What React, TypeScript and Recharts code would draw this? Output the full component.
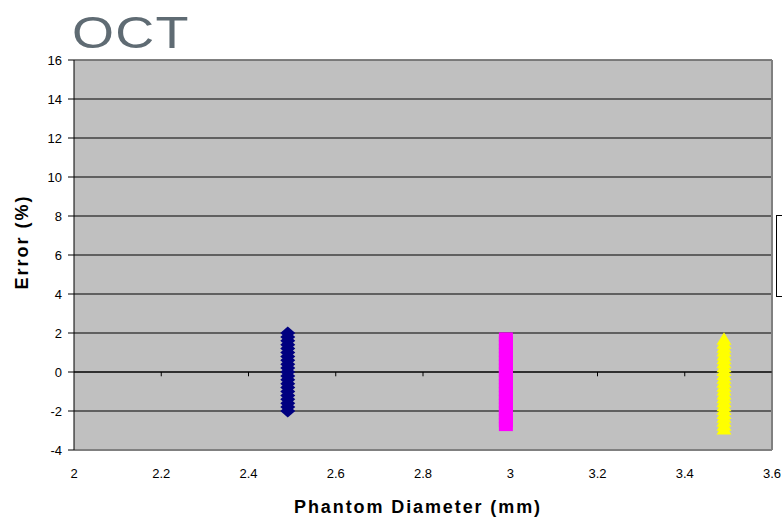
import React from "react";
import {
  ScatterChart,
  Scatter,
  XAxis,
  YAxis,
  CartesianGrid,
  ReferenceLine,
  Label,
} from "recharts";

const xTicks = [2, 2.2, 2.4, 2.6, 2.8, 3, 3.2, 3.4, 3.6];
const yTicks = [-4, -2, 0, 2, 4, 6, 8, 10, 12, 14, 16];

// x positions of the three groups
const blueX = 2.49;
const pinkX = 2.99;
const yellowX = 3.49;

const blueErrors = [
  2, 1.8, 1.6, 1.4, 1.2, 1, 0.8, 0.6, 0.4, 0.2, 0, -0.2, -0.4, -0.6, -0.8, -1,
  -1.2, -1.4, -1.6, -1.8, -2,
];
const pinkErrors = [
  1.8, 1.6, 1.4, 1.2, 1, 0.8, 0.6, 0.4, 0.2, 0, -0.2, -0.4, -0.6, -0.8, -1,
  -1.2, -1.4, -1.6, -1.8, -2, -2.2, -2.4, -2.6, -2.8,
];
const yellowErrors = [
  1.7, 1.5, 1.3, 1.1, 0.9, 0.7, 0.5, 0.3, 0.1, -0.1, -0.3, -0.5, -0.7, -0.9,
  -1.1, -1.3, -1.5, -1.7, -1.9, -2.1, -2.3, -2.5, -2.7, -2.9,
];

const FONT = "'Liberation Sans', Arial, sans-serif";

const toPoints = (x: number, ys: number[]) => ys.map((y) => ({ x, y }));

const Diamond = (props: any) => {
  const { cx, cy } = props;
  return (
    <path
      d={`M${cx},${cy - 6.5} L${cx + 7.5},${cy} L${cx},${cy + 6.5} L${cx - 7.5},${cy} Z`}
      fill="#000080"
    />
  );
};

const Square = (props: any) => {
  const { cx, cy } = props;
  return <rect x={cx - 7} y={cy - 4.5} width={14} height={9} fill="#ff00ff" />;
};

const Triangle = (props: any) => {
  const { cx, cy } = props;
  return (
    <path
      d={`M${cx},${cy - 6.5} L${cx + 7.5},${cy + 6} L${cx - 7.5},${cy + 6} Z`}
      fill="#ffff00"
    />
  );
};

export default function App() {
  return (
    <div
      style={{
        position: "absolute",
        left: 0,
        top: 0,
        width: 782,
        height: 520,
        overflow: "hidden",
        background: "#fff",
        fontFamily: FONT,
      }}
    >
      <div
        style={{
          position: "absolute",
          left: 72,
          top: 10,
          fontSize: 45,
          lineHeight: "45px",
          color: "#5f6b73",
          transform: "scaleX(1.2)",
          transformOrigin: "left top",
          letterSpacing: 1,
        }}
      >
        OCT
      </div>
      <ScatterChart
        width={782}
        height={520}
        margin={{ top: 60, right: 10, bottom: 0, left: 0 }}
      >
        <CartesianGrid
          vertical={false}
          stroke="#000"
          fill="#c0c0c0"
          fillOpacity={1}
        />
        <XAxis
          type="number"
          dataKey="x"
          domain={[2, 3.6]}
          ticks={xTicks}
          height={70}
          axisLine={false}
          tickLine={false}
          tickSize={0}
          tickMargin={19}
          tick={{ fill: "#000", fontSize: 13, fontFamily: FONT }}
        >
          <Label
            content={({ viewBox }: any) => (
              <text
                x={viewBox.x + viewBox.width / 2 - 5}
                y={viewBox.y + 63}
                textAnchor="middle"
                fontSize={18}
                fontWeight="bold"
                letterSpacing={1.9}
                fontFamily={FONT}
                fill="#000"
              >
                Phantom Diameter (mm)
              </text>
            )}
          />
        </XAxis>
        <YAxis
          type="number"
          dataKey="y"
          domain={[-4, 16]}
          ticks={yTicks}
          width={74}
          stroke="#000"
          tickSize={6}
          tickMargin={6}
          tick={{ fill: "#000", fontSize: 13, fontFamily: FONT }}
        >
          <Label
            content={({ viewBox }: any) => {
              const x = viewBox.x + 22;
              const y = viewBox.y + viewBox.height / 2 - 13;
              return (
                <text
                  x={x}
                  y={y}
                  transform={`rotate(-90, ${x}, ${y})`}
                  textAnchor="middle"
                  dominantBaseline="central"
                  fontSize={18}
                  fontWeight="bold"
                  letterSpacing={2}
                  fontFamily={FONT}
                  fill="#000"
                >
                  Error (%)
                </text>
              );
            }}
          />
        </YAxis>
        <ReferenceLine y={16} stroke="#808080" strokeWidth={1.5} />
        <ReferenceLine y={-4} stroke="#808080" strokeWidth={2} />
        <ReferenceLine x={3.6} stroke="#808080" strokeWidth={2} />
        <ReferenceLine y={0} stroke="#000" />
        {xTicks.slice(1, -1).map((t) => (
          <ReferenceLine
            key={t}
            segment={[
              { x: t, y: 0 },
              { x: t, y: -0.22 },
            ]}
            stroke="#000"
          />
        ))}
        <Scatter
          data={toPoints(blueX, blueErrors)}
          shape={Diamond}
          isAnimationActive={false}
        />
        <Scatter
          data={toPoints(pinkX, pinkErrors)}
          shape={Square}
          isAnimationActive={false}
        />
        <Scatter
          data={toPoints(yellowX, yellowErrors)}
          shape={Triangle}
          isAnimationActive={false}
        />
      </ScatterChart>
      <div
        style={{
          position: "absolute",
          left: 776,
          top: 215,
          width: 20,
          height: 80,
          border: "1px solid #000",
          background: "#fff",
        }}
      />
    </div>
  );
}
